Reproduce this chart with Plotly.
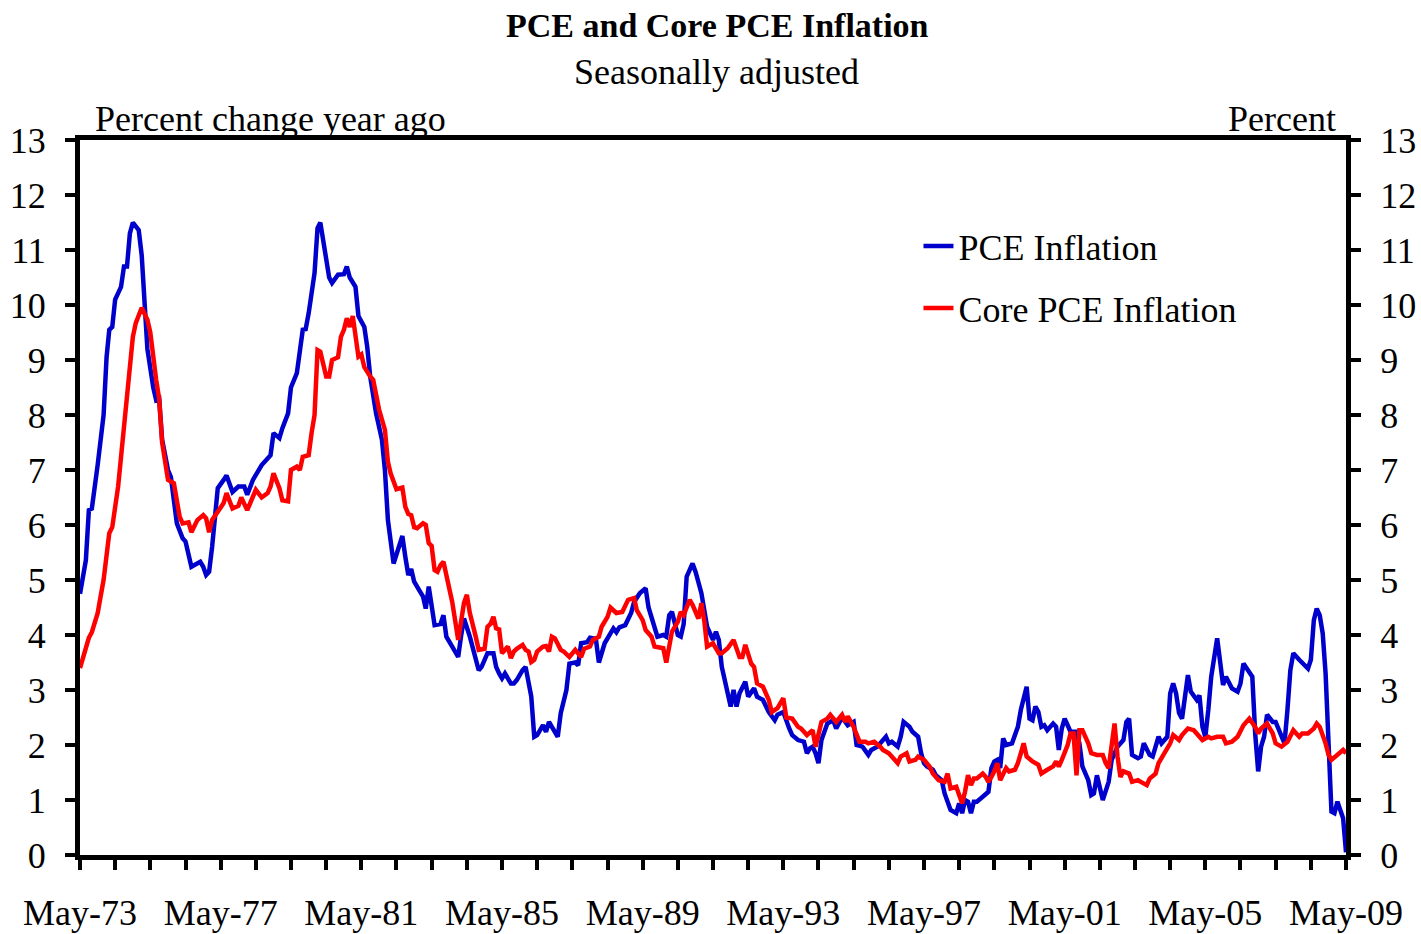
import pandas as pd
import plotly.graph_objects as go

# ---- data ----
start_month = "1973-05-01"

pce_month_offset = [0, 2, 3, 4, 6, 8, 9, 10, 11, 12, 14, 15, 16, 17, 18, 20, 21, 22, 23, 25, 26, 27, 28, 30, 31, 33, 35, 36, 38, 41, 42, 43, 44, 45, 47, 49, 50, 52, 54, 56, 57, 59, 61, 62, 65, 66, 68, 69, 71, 72, 74, 76, 77, 78, 80, 81, 82, 84, 85, 86, 88, 90, 91, 92, 94, 95, 97, 98, 99, 101, 103, 104, 105, 107, 109, 110, 111, 112, 113, 114, 116, 117, 118, 119, 121, 123, 124, 125, 127, 129, 130, 131, 133, 135, 136, 137, 139, 141, 142, 143, 144, 145, 147, 148, 149, 151, 152, 154, 155, 156, 158, 159, 160, 161, 163, 164, 166, 167, 169, 170, 171, 173, 174, 176, 177, 179, 180, 182, 183, 184, 186, 188, 189, 191, 193, 194, 197, 199, 200, 201, 202, 204, 205, 206, 207, 209, 210, 212, 214, 216, 217, 218, 219, 221, 222, 223, 224, 225, 227, 228, 230, 231, 233, 235, 237, 238, 240, 242, 243, 245, 247, 248, 249, 250, 251, 252, 253, 255, 257, 258, 260, 262, 264, 265, 267, 269, 270, 272, 274, 275, 276, 277, 279, 280, 281, 283, 284, 286, 287, 288, 289, 291, 292, 294, 295, 297, 299, 300, 301, 302, 303, 304, 305, 306, 308, 309, 310, 311, 312, 313, 314, 315, 316, 318, 319, 320, 321, 323, 324, 325, 326, 327, 328, 329, 330, 332, 333, 334, 335, 336, 337, 338, 340, 341, 342, 344, 345, 346, 347, 349, 351, 352, 354, 356, 357, 358, 359, 361, 362, 363, 365, 366, 368, 369, 371, 372, 373, 374, 375, 376, 378, 379, 381, 382, 383, 384, 385, 386, 388, 389, 390, 391, 393, 395, 396, 397, 399, 400, 401, 402, 403, 404, 405, 407, 408, 409, 411, 412, 413, 414, 415, 416, 419, 420, 421, 422, 423, 424, 425, 426, 427, 428, 429, 431, 432]
pce_values = [4.75, 5.36, 6.27, 6.3, 7.1, 8.0, 9.05, 9.55, 9.6, 10.1, 10.33, 10.7, 10.7, 11.3, 11.5, 11.36, 10.9, 9.96, 9.2, 8.5, 8.27, 8.3, 7.55, 7.0, 6.87, 6.03, 5.76, 5.7, 5.24, 5.33, 5.24, 5.09, 5.15, 5.6, 6.67, 6.82, 6.9, 6.6, 6.7, 6.7, 6.55, 6.82, 7.0, 7.09, 7.27, 7.67, 7.58, 7.76, 8.03, 8.5, 8.76, 9.55, 9.56, 9.85, 10.58, 11.4, 11.5, 10.87, 10.5, 10.4, 10.55, 10.56, 10.7, 10.5, 10.33, 9.8, 9.6, 9.24, 8.7, 8.03, 7.55, 7.0, 6.09, 5.3, 5.6, 5.8, 5.42, 5.09, 5.2, 4.97, 4.79, 4.7, 4.48, 4.88, 4.18, 4.2, 4.36, 3.97, 3.79, 3.6, 3.97, 4.3, 3.97, 3.6, 3.36, 3.42, 3.67, 3.67, 3.42, 3.3, 3.21, 3.3, 3.12, 3.12, 3.18, 3.36, 3.42, 2.88, 2.15, 2.18, 2.36, 2.24, 2.42, 2.33, 2.15, 2.58, 3.0, 3.48, 3.5, 3.45, 3.85, 3.87, 3.95, 3.93, 3.5, 3.85, 3.93, 4.12, 4.05, 4.14, 4.18, 4.4, 4.6, 4.76, 4.85, 4.5, 3.97, 4.0, 3.97, 4.36, 4.42, 4.0, 3.97, 4.2, 5.06, 5.3, 5.15, 4.76, 4.15, 3.91, 4.06, 3.91, 3.42, 2.88, 2.7, 3.0, 2.7, 2.94, 3.15, 2.88, 3.03, 2.88, 2.82, 2.6, 2.45, 2.55, 2.6, 2.3, 2.18, 2.09, 2.06, 1.85, 1.94, 1.97, 1.85, 1.67, 2.09, 2.39, 2.45, 2.3, 2.5, 2.36, 2.42, 2.0, 1.97, 1.82, 1.91, 1.97, 2.09, 2.15, 2.03, 2.06, 1.97, 2.15, 2.42, 2.33, 2.24, 2.15, 1.85, 1.67, 1.61, 1.55, 1.45, 1.36, 1.12, 0.82, 0.76, 0.94, 0.76, 1.0, 0.97, 0.76, 0.97, 0.97, 1.06, 1.12, 1.15, 1.58, 1.7, 1.73, 1.58, 2.12, 2.0, 2.03, 2.18, 2.33, 2.64, 3.06, 2.48, 2.45, 2.7, 2.6, 2.33, 2.36, 2.27, 2.39, 2.33, 1.91, 2.3, 2.48, 2.36, 2.24, 2.24, 2.03, 1.61, 1.36, 1.09, 1.12, 1.45, 1.0, 1.33, 1.73, 1.97, 2.09, 2.42, 2.48, 1.82, 1.76, 1.79, 2.03, 1.82, 1.79, 2.15, 2.03, 2.15, 2.94, 3.12, 2.94, 2.58, 2.48, 3.27, 2.97, 2.82, 2.9, 2.33, 2.15, 2.64, 3.24, 3.94, 3.55, 3.09, 3.24, 3.03, 2.97, 3.12, 3.48, 3.3, 3.24, 2.2, 1.52, 1.97, 2.15, 2.55, 2.42, 2.42, 2.3, 2.03, 2.64, 3.36, 3.67, 3.6, 3.55, 3.39, 3.55, 4.27, 4.48, 4.36, 4.03, 3.3, 1.85, 0.79, 0.76, 0.97, 0.67, 0.05]

core_month_offset = [0, 2, 3, 4, 6, 7, 8, 10, 11, 13, 14, 16, 18, 19, 21, 23, 24, 26, 27, 28, 30, 32, 34, 35, 37, 38, 40, 42, 43, 44, 45, 47, 49, 50, 51, 52, 54, 55, 57, 59, 60, 62, 64, 65, 66, 68, 69, 71, 72, 74, 75, 76, 78, 79, 80, 81, 82, 84, 85, 86, 88, 89, 90, 91, 92, 93, 95, 96, 97, 99, 100, 102, 104, 105, 106, 108, 110, 111, 112, 113, 114, 115, 117, 118, 119, 120, 121, 122, 123, 124, 126, 127, 129, 130, 131, 132, 133, 135, 136, 138, 139, 140, 141, 142, 143, 144, 146, 147, 148, 149, 151, 152, 153, 154, 155, 156, 158, 159, 160, 161, 162, 164, 165, 167, 169, 171, 172, 174, 175, 177, 178, 180, 181, 183, 184, 185, 187, 189, 190, 192, 193, 195, 196, 199, 200, 202, 204, 205, 206, 208, 209, 211, 212, 213, 214, 216, 218, 219, 221, 223, 225, 226, 227, 229, 230, 231, 233, 235, 236, 238, 240, 241, 243, 245, 246, 248, 250, 251, 253, 255, 256, 258, 260, 261, 262, 264, 266, 268, 269, 271, 273, 274, 276, 278, 279, 280, 282, 283, 285, 286, 288, 290, 291, 293, 295, 296, 297, 299, 301, 302, 303, 304, 305, 306, 308, 309, 310, 311, 312, 313, 314, 316, 317, 319, 320, 321, 322, 323, 325, 327, 328, 330, 332, 333, 334, 335, 336, 337, 338, 339, 340, 341, 342, 344, 345, 347, 349, 350, 351, 352, 353, 354, 355, 356, 358, 359, 361, 362, 363, 364, 365, 367, 368, 370, 372, 373, 375, 376, 378, 380, 381, 383, 385, 386, 388, 390, 391, 393, 395, 396, 397, 399, 401, 402, 403, 405, 407, 408, 410, 412, 413, 414, 416, 417, 419, 421, 422, 423, 425, 426, 427, 429, 431, 432]
core_values = [3.4, 3.75, 3.95, 4.05, 4.4, 4.7, 5.0, 5.85, 5.96, 6.7, 7.24, 8.4, 9.42, 9.67, 9.95, 9.73, 9.5, 8.64, 8.3, 7.5, 6.82, 6.76, 6.15, 6.03, 6.05, 5.87, 6.09, 6.18, 6.12, 5.87, 6.09, 6.24, 6.4, 6.58, 6.45, 6.3, 6.35, 6.5, 6.27, 6.55, 6.64, 6.5, 6.58, 6.7, 6.94, 6.67, 6.45, 6.43, 7.0, 7.06, 7.0, 7.24, 7.27, 7.67, 8.0, 9.18, 9.15, 8.7, 8.7, 9.0, 9.05, 9.42, 9.55, 9.76, 9.6, 9.8, 9.06, 9.1, 8.87, 8.7, 8.64, 8.1, 7.73, 7.15, 6.94, 6.65, 6.68, 6.33, 6.2, 6.18, 5.96, 5.94, 6.03, 6.0, 5.67, 5.62, 5.18, 5.15, 5.27, 5.33, 4.82, 4.6, 3.91, 4.18, 4.58, 4.73, 4.4, 3.97, 3.73, 3.75, 4.15, 4.2, 4.33, 4.12, 4.1, 3.67, 3.79, 3.58, 3.7, 3.75, 3.82, 3.73, 3.7, 3.51, 3.55, 3.7, 3.79, 3.8, 3.7, 3.97, 3.94, 3.73, 3.7, 3.6, 3.73, 3.6, 3.75, 3.79, 3.91, 3.97, 4.15, 4.33, 4.5, 4.4, 4.42, 4.42, 4.64, 4.67, 4.45, 4.27, 4.09, 3.97, 3.79, 3.76, 3.5, 4.06, 4.24, 4.42, 4.36, 4.64, 4.55, 4.3, 4.58, 4.24, 3.79, 3.85, 3.67, 3.67, 3.76, 3.91, 3.6, 3.6, 3.82, 3.48, 3.42, 3.12, 3.06, 2.82, 2.6, 2.67, 2.85, 2.5, 2.48, 2.33, 2.3, 2.18, 2.27, 1.97, 2.42, 2.48, 2.55, 2.42, 2.55, 2.42, 2.52, 2.33, 2.06, 2.06, 2.03, 2.06, 1.97, 1.91, 1.85, 1.73, 1.67, 1.79, 1.85, 1.7, 1.73, 1.79, 1.73, 1.6, 1.48, 1.36, 1.33, 1.48, 1.21, 1.24, 0.94, 1.15, 1.45, 1.27, 1.39, 1.39, 1.48, 1.42, 1.33, 1.42, 1.52, 1.67, 1.36, 1.58, 1.52, 1.55, 1.67, 1.85, 2.03, 1.79, 1.7, 1.64, 1.48, 1.55, 1.61, 1.7, 1.61, 1.73, 1.85, 2.0, 2.21, 2.21, 1.45, 2.27, 2.27, 2.03, 1.85, 1.82, 1.82, 1.67, 1.58, 2.06, 2.39, 1.79, 1.42, 1.52, 1.48, 1.33, 1.36, 1.33, 1.3, 1.27, 1.39, 1.48, 1.67, 1.85, 2.03, 2.18, 2.09, 2.18, 2.3, 2.27, 2.21, 2.09, 2.15, 2.12, 2.15, 2.15, 2.03, 2.06, 2.15, 2.27, 2.36, 2.48, 2.33, 2.21, 2.3, 2.39, 2.21, 2.03, 1.97, 2.06, 2.15, 2.27, 2.15, 2.21, 2.21, 2.3, 2.39, 2.33, 2.03, 1.82, 1.73, 1.82, 1.91, 1.85]

tick_years = list(range(1973, 2010))
label_years = list(range(1973, 2010, 4))
y_ticks = list(range(0, 14))

# ---- build ----
base = pd.Timestamp(start_month)
pce_dates = [base + pd.DateOffset(months=int(m)) for m in pce_month_offset]
core_dates = [base + pd.DateOffset(months=int(m)) for m in core_month_offset]

tickvals = [pd.Timestamp(year=y, month=5, day=1) for y in tick_years]
ticktext = [("May-%02d" % (y % 100)) if y in label_years else "" for y in tick_years]

FONT = "Liberation Serif"
BLUE = "#0000CC"
RED = "#FF0000"

fig = go.Figure()
fig.add_trace(go.Scatter(x=pce_dates, y=pce_values, mode="lines", name="PCE Inflation",
                         line=dict(color=BLUE, width=4.5), legend="legend", yaxis="y"))
fig.add_trace(go.Scatter(x=core_dates, y=core_values, mode="lines", name="Core PCE Inflation",
                         line=dict(color=RED, width=4.5), legend="legend2", yaxis="y2"))

axis_common = dict(showgrid=False, zeroline=False, showline=True, linecolor="black",
                   linewidth=5, ticks="outside", ticklen=10, tickwidth=4, tickcolor="black",
                   automargin=False,
                   tickfont=dict(family=FONT, size=36, color="black"))

fig.update_layout(
    width=1421, height=934,
    margin=dict(l=80, r=75, t=140, b=79, pad=0),
    paper_bgcolor="white", plot_bgcolor="white",
    font=dict(family=FONT, color="black"),
    xaxis=dict(type="date", range=[base, pd.Timestamp("2009-05-01")],
               tickmode="array", tickvals=tickvals, ticktext=ticktext,
               mirror=True, ticklabelstandoff=12, **axis_common),
    yaxis=dict(range=[0, 13], tickmode="array", tickvals=y_ticks,
               ticklabelstandoff=12, **axis_common),
    yaxis2=dict(range=[0, 13], tickmode="array", tickvals=y_ticks, overlaying="y",
                side="right", ticklabelstandoff=12, **axis_common),
    legend=dict(x=0.6623, xanchor="left", y=0.8517, yanchor="middle",
                bgcolor="rgba(0,0,0,0)", borderwidth=0,
                font=dict(family=FONT, size=36, color="black")),
    legend2=dict(x=0.6623, xanchor="left", y=0.765, yanchor="middle",
                 bgcolor="rgba(0,0,0,0)", borderwidth=0,
                 font=dict(family=FONT, size=36, color="black")),
    showlegend=True,
)

fig.add_annotation(text="<b>PCE and Core PCE Inflation</b>", xref="paper", yref="paper",
                   x=0.5036, y=1.1608, xanchor="center", yanchor="middle", showarrow=False,
                   font=dict(family=FONT, size=34, color="black"))
fig.add_annotation(text="Seasonally adjusted", xref="paper", yref="paper",
                   x=0.503, y=1.0951, xanchor="center", yanchor="middle", showarrow=False,
                   font=dict(family=FONT, size=36, color="black"))
fig.add_annotation(text="Percent change year ago", xref="paper", yref="paper",
                   x=0.0103, y=1.03, xanchor="left", yanchor="middle", showarrow=False,
                   font=dict(family=FONT, size=36, color="black"))
fig.add_annotation(text="Percent", xref="paper", yref="paper",
                   x=0.9937, y=1.03, xanchor="right", yanchor="middle", showarrow=False,
                   font=dict(family=FONT, size=36, color="black"))

fig.write_html(
    "out.html",
    config={"displayModeBar": False},
    post_script="document.body.style.margin='0';document.body.style.overflow='hidden';"
                "document.documentElement.style.overflow='hidden';",
)
